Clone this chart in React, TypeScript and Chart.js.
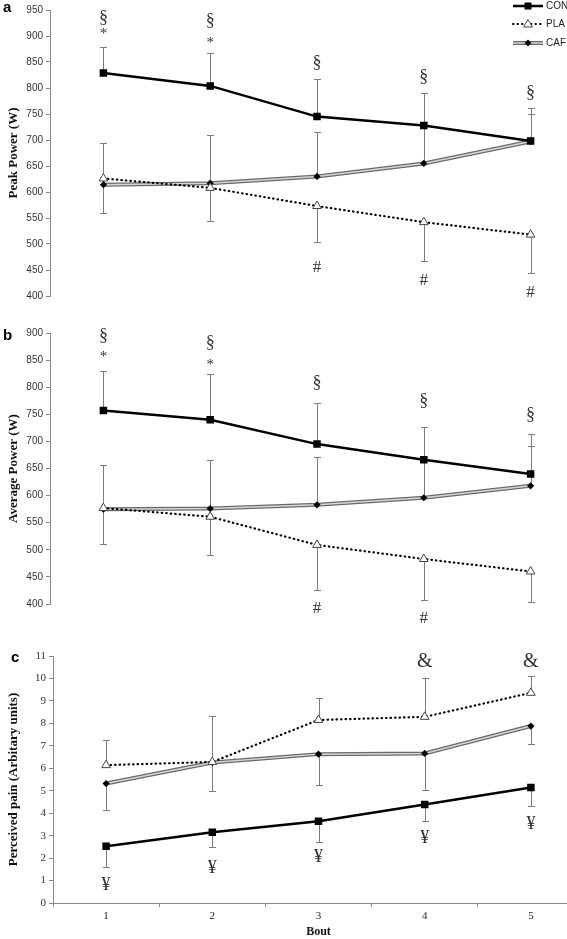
import React, { useEffect, useRef } from 'react';
import { Chart, registerables } from 'chart.js';

Chart.register(...registerables);

// ---------- data ----------
const BOUTS = ['1', '2', '3', '4', '5'];

// Panel a: Peak Power (W)
const PEAK_CON = [829, 804, 745, 728, 698];
const PEAK_PLA = [626, 608, 573, 542, 518];
const PEAK_CAF = [614, 617, 630, 655, 697];
const PEAK_CON_SD = [50, 64, 73, 62, 63];
const PEAK_PLA_SD = [67, 63, 70, 75, 73];
const PEAK_CAF_SD = [81, 93, 85, 80, 53];
const PEAK_SECTION = [934, 928, 848, 821, 790];
const PEAK_STAR = [903, 887, null, null, null];
const PEAK_HASH = [null, null, 455, 430, 407];

// Panel b: Average Power (W)
const AVG_CON = [757, 740, 695, 666, 640];
const AVG_PLA = [577, 561, 509, 483, 460];
const AVG_CAF = [575, 576, 583, 596, 618];
const AVG_CON_SD = [72, 85, 75, 61, 74];
const AVG_PLA_SD = [66, 71, 83, 76, 57];
const AVG_CAF_SD = [82, 90, 89, 75, 74];
const AVG_SECTION = [894, 881, 808, 774, 749];
const AVG_STAR = [856, 841, null, null, null];
const AVG_HASH = [null, null, 392, 374, null];

// Panel c: Perceived pain (Arbitary units)
const PAIN_CON = [2.53, 3.15, 3.64, 4.39, 5.14];
const PAIN_PLA = [6.14, 6.28, 8.15, 8.29, 9.36];
const PAIN_CAF = [5.32, 6.26, 6.63, 6.66, 7.88];
const PAIN_CON_SD = [0.93, 0.65, 0.92, 0.75, 0.83];
const PAIN_PLA_SD = [1.11, 2.06, 0.96, 1.72, 0.75];
const PAIN_CAF_SD = [1.16, 1.26, 1.38, 1.61, 0.82];
const PAIN_YEN = [0.79, 1.53, 2.02, 2.87, 3.51];
const PAIN_AMP = [null, null, null, 10.75, 10.75];

// ---------- styles ----------
const SERIF = '"Liberation Serif", "Times New Roman", serif';
const SANS = '"Liberation Sans", Arial, sans-serif';
const AXIS_GRAY = '#8a8a8a';
const ERR_GRAY = '#7c7c7c';
const CAF_OUTER = '#6a6a6a';
const CAF_INNER = '#d6d6d6';
const MARK_COLOR = '#333';

type ErrSpec = { values: number[]; sd: number[]; dir: number };
type MarkSpec = { values: (number | null)[]; text: string; size: number };
type PanelSpec = {
  con: number[]; pla: number[]; caf: number[];
  errors: ErrSpec[];
  marks: MarkSpec[];
  yMin: number; yMax: number; step: number;
  title: string;
  tickFont: string;
  letter: string; letterX: number; letterY: number;
  legend: boolean;
  showX: boolean;
  yWidth: number;
  padding: { top: number; bottom: number; left: number; right: number };
};

function drawLegend(ctx: CanvasRenderingContext2D) {
  const x0 = 513, x1 = 543, xm = 528, tx = 546;
  const rows = [6, 24, 43];
  ctx.save();
  // CON
  ctx.strokeStyle = '#000';
  ctx.lineWidth = 2.5;
  ctx.beginPath(); ctx.moveTo(x0, rows[0]); ctx.lineTo(x1, rows[0]); ctx.stroke();
  ctx.fillStyle = '#000';
  ctx.fillRect(xm - 3.5, rows[0] - 3.5, 7, 7);
  // PLA
  ctx.lineWidth = 2;
  ctx.lineCap = 'round';
  ctx.setLineDash([0.5, 4]);
  ctx.beginPath(); ctx.moveTo(x0, rows[1]); ctx.lineTo(x1, rows[1]); ctx.stroke();
  ctx.setLineDash([]);
  ctx.lineCap = 'butt';
  ctx.fillStyle = '#fff';
  ctx.strokeStyle = '#444';
  ctx.lineWidth = 1;
  ctx.beginPath();
  ctx.moveTo(xm, rows[1] - 4.5); ctx.lineTo(xm + 4.5, rows[1] + 3); ctx.lineTo(xm - 4.5, rows[1] + 3); ctx.closePath();
  ctx.fill(); ctx.stroke();
  // CAF
  ctx.strokeStyle = CAF_OUTER; ctx.lineWidth = 4;
  ctx.beginPath(); ctx.moveTo(x0, rows[2]); ctx.lineTo(x1, rows[2]); ctx.stroke();
  ctx.strokeStyle = CAF_INNER; ctx.lineWidth = 1.5;
  ctx.beginPath(); ctx.moveTo(x0, rows[2]); ctx.lineTo(x1, rows[2]); ctx.stroke();
  ctx.fillStyle = '#000';
  ctx.beginPath();
  ctx.moveTo(xm, rows[2] - 3.5); ctx.lineTo(xm + 3.5, rows[2]); ctx.lineTo(xm, rows[2] + 3.5); ctx.lineTo(xm - 3.5, rows[2]); ctx.closePath();
  ctx.fill();
  // labels
  ctx.fillStyle = '#222';
  ctx.font = `10px ${SANS}`;
  ctx.textAlign = 'left';
  ctx.textBaseline = 'middle';
  ctx.fillText('CON', tx, rows[0]);
  ctx.fillText('PLA', tx, rows[1]);
  ctx.fillText('CAF', tx, rows[2]);
  ctx.restore();
}

function makeExtras(spec: PanelSpec) {
  return {
    id: 'panelExtras',
    beforeDatasetsDraw(chart: any) {
      const { ctx, scales } = chart;
      const x = scales.x, y = scales.y;
      ctx.save();
      ctx.strokeStyle = ERR_GRAY;
      ctx.lineWidth = 1;
      spec.errors.forEach((e) => {
        e.values.forEach((v, i) => {
          const px = Math.round(x.getPixelForValue(i)) + 0.5;
          const y0 = y.getPixelForValue(v);
          const y1 = Math.round(y.getPixelForValue(v + e.dir * e.sd[i])) + 0.5;
          ctx.beginPath();
          ctx.moveTo(px, y0); ctx.lineTo(px, y1);
          ctx.moveTo(px - 3.5, y1); ctx.lineTo(px + 3.5, y1);
          ctx.stroke();
        });
      });
      ctx.restore();
    },
    afterDatasetsDraw(chart: any) {
      const { ctx, scales } = chart;
      const x = scales.x, y = scales.y;
      ctx.save();
      ctx.fillStyle = MARK_COLOR;
      ctx.textAlign = 'center';
      ctx.textBaseline = 'middle';
      spec.marks.forEach((m) => {
        ctx.font = `${m.size}px ${SERIF}`;
        m.values.forEach((v, i) => {
          if (v === null) return;
          ctx.fillText(m.text, x.getPixelForValue(i), y.getPixelForValue(v));
        });
      });
      ctx.fillStyle = '#000';
      ctx.font = `bold 15px ${SANS}`;
      ctx.textAlign = 'left';
      ctx.fillText(spec.letter, spec.letterX, spec.letterY);
      if (spec.legend) drawLegend(ctx);
      ctx.restore();
    },
  };
}

function buildConfig(spec: PanelSpec): any {
  const tickFont = spec.tickFont === 'serif'
    ? { family: SERIF, size: 11 }
    : { family: SANS, size: 10 };
  return {
    type: 'line',
    data: {
      labels: BOUTS,
      datasets: [
        {
          label: 'CON', data: spec.con, order: 0,
          borderColor: '#000', borderWidth: 2.5, tension: 0,
          pointStyle: 'rect', pointRadius: 5.3,
          pointBackgroundColor: '#000', pointBorderColor: '#000', pointBorderWidth: 0,
        },
        {
          label: 'PLA', data: spec.pla, order: 1,
          borderColor: '#000', borderWidth: 2.2, borderDash: [0.5, 4], borderCapStyle: 'round',
          pointStyle: 'triangle', pointRadius: 5,
          pointBackgroundColor: '#fff', pointBorderColor: '#444', pointBorderWidth: 1,
        },
        {
          label: 'CAF', data: spec.caf, order: 2,
          borderColor: CAF_INNER, borderWidth: 1.5,
          pointStyle: 'rectRot', pointRadius: 3.6,
          pointBackgroundColor: '#000', pointBorderColor: '#000', pointBorderWidth: 0,
        },
        {
          label: 'CAF outline', data: spec.caf, order: 3,
          borderColor: CAF_OUTER, borderWidth: 4, pointRadius: 0,
        },
      ],
    },
    options: {
      responsive: false,
      animation: false,
      devicePixelRatio: 1,
      layout: { padding: spec.padding },
      plugins: { legend: { display: false }, tooltip: { enabled: false } },
      scales: {
        x: {
          display: spec.showX,
          offset: true,
          afterFit: (s: any) => { s.height = spec.showX ? 36 : 0; },
          grid: { offset: true, drawOnChartArea: false, drawTicks: true, tickLength: 4, color: AXIS_GRAY },
          border: { display: true, color: AXIS_GRAY, width: 1 },
          ticks: { font: { family: SERIF, size: 11 }, color: '#222', padding: 3 },
          title: { display: true, text: 'Bout', font: { family: SERIF, size: 12, weight: 'bold' }, color: '#111', padding: { top: 0, bottom: 0 } },
        },
        y: {
          min: spec.yMin, max: spec.yMax,
          afterFit: (s: any) => { s.width = spec.yWidth; },
          ticks: { stepSize: spec.step, font: tickFont, color: '#333', padding: 3 },
          grid: { drawOnChartArea: false, drawTicks: true, tickLength: 4, color: AXIS_GRAY },
          border: { display: true, color: AXIS_GRAY, width: 1 },
          title: {
            display: true, text: spec.title, color: '#111',
            font: { family: SERIF, size: 13, weight: 'bold' },
            padding: { top: 6, bottom: 0 },
          },
        },
      },
    },
    plugins: [makeExtras(spec)],
  };
}

const PANELS: { top: number; height: number; spec: PanelSpec }[] = [
  {
    top: 0, height: 312,
    spec: {
      con: PEAK_CON, pla: PEAK_PLA, caf: PEAK_CAF,
      errors: [
        { values: PEAK_CON, sd: PEAK_CON_SD, dir: 1 },
        { values: PEAK_CAF, sd: PEAK_CAF_SD, dir: 1 },
        { values: PEAK_PLA, sd: PEAK_PLA_SD, dir: -1 },
      ],
      marks: [
        { values: PEAK_SECTION, text: '§', size: 18 },
        { values: PEAK_STAR, text: '*', size: 15 },
        { values: PEAK_HASH, text: '#', size: 17 },
      ],
      yMin: 400, yMax: 950, step: 50,
      title: 'Peak Power (W)', tickFont: 'sans',
      letter: 'a', letterX: 3, letterY: 8,
      legend: true, showX: false, yWidth: 50,
      padding: { top: 10, bottom: 16, left: 0, right: 2 },
    },
  },
  {
    top: 300, height: 330,
    spec: {
      con: AVG_CON, pla: AVG_PLA, caf: AVG_CAF,
      errors: [
        { values: AVG_CON, sd: AVG_CON_SD, dir: 1 },
        { values: AVG_CAF, sd: AVG_CAF_SD, dir: 1 },
        { values: AVG_PLA, sd: AVG_PLA_SD, dir: -1 },
      ],
      marks: [
        { values: AVG_SECTION, text: '§', size: 18 },
        { values: AVG_STAR, text: '*', size: 15 },
        { values: AVG_HASH, text: '#', size: 17 },
      ],
      yMin: 400, yMax: 900, step: 50,
      title: 'Average Power (W)', tickFont: 'sans',
      letter: 'b', letterX: 3, letterY: 36,
      legend: false, showX: false, yWidth: 50,
      padding: { top: 33, bottom: 26, left: 0, right: 2 },
    },
  },
  {
    top: 620, height: 319,
    spec: {
      con: PAIN_CON, pla: PAIN_PLA, caf: PAIN_CAF,
      errors: [
        { values: PAIN_CON, sd: PAIN_CON_SD, dir: -1 },
        { values: PAIN_CAF, sd: PAIN_CAF_SD, dir: -1 },
        { values: PAIN_PLA, sd: PAIN_PLA_SD, dir: 1 },
      ],
      marks: [
        { values: PAIN_YEN, text: '¥', size: 18 },
        { values: PAIN_AMP, text: '&', size: 20 },
      ],
      yMin: 0, yMax: 11, step: 1,
      title: 'Perceived pain (Arbitary units)', tickFont: 'serif',
      letter: 'c', letterX: 11, letterY: 38,
      legend: false, showX: true, yWidth: 53,
      padding: { top: 36, bottom: 0, left: 0, right: 0 },
    },
  },
];

function Panel({ top, height, spec }: { top: number; height: number; spec: PanelSpec }) {
  const ref = useRef<HTMLCanvasElement | null>(null);
  useEffect(() => {
    if (!ref.current) return;
    const chart = new Chart(ref.current, buildConfig(spec));
    return () => chart.destroy();
  }, []);
  return (
    <canvas
      ref={ref}
      width={590}
      height={height}
      style={{ position: 'absolute', left: 0, top, width: 590, height }}
    />
  );
}

export default function App() {
  return (
    <div style={{ position: 'absolute', left: 0, top: 0, width: 567, height: 939, overflow: 'hidden', background: '#fff' }}>
      {PANELS.map((p, i) => (
        <Panel key={i} top={p.top} height={p.height} spec={p.spec} />
      ))}
    </div>
  );
}
